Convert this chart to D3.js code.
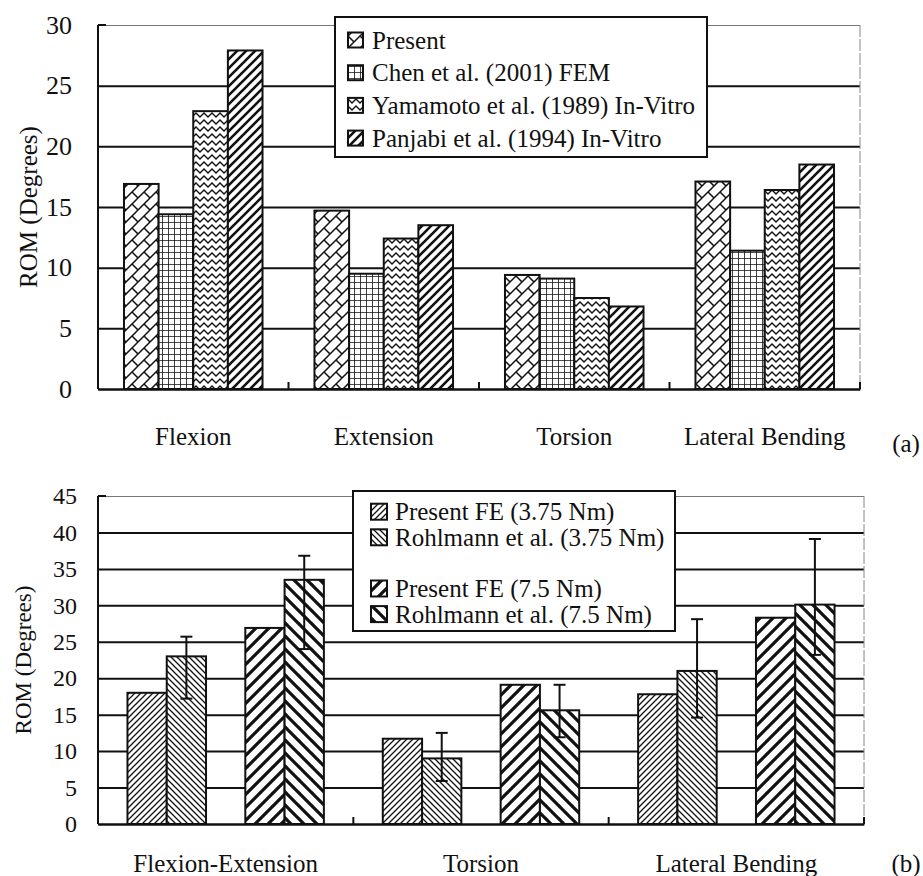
<!DOCTYPE html>
<html><head><meta charset="utf-8">
<script src="https://cdn.jsdelivr.net/npm/d3@7"></script>
<style>
body{margin:0;background:#fff}
text{font-family:"Liberation Serif","Times New Roman",serif;fill:#111}
</style>
</head><body>
<svg id="c" width="923" height="876"></svg>
<script>
// ---------- data ----------
const topCategories = ["Flexion", "Extension", "Torsion", "Lateral Bending"];
const topSeries = ["Present", "Chen et al. (2001) FEM", "Yamamoto et al. (1989) In-Vitro", "Panjabi et al. (1994) In-Vitro"];
const topPresent = [16.9, 14.7, 9.4, 17.1];
const topChen = [14.4, 9.5, 9.1, 11.4];
const topYamamoto = [22.9, 12.4, 7.5, 16.4];
const topPanjabi = [27.9, 13.5, 6.8, 18.5];
const topTicks = [0, 5, 10, 15, 20, 25, 30];

const botCategories = ["Flexion-Extension", "Torsion", "Lateral Bending"];
const botSeries = ["Present FE (3.75 Nm)", "Rohlmann et al. (3.75 Nm)", "", "Present FE (7.5 Nm)", "Rohlmann et al. (7.5 Nm)"];
const botPresent375 = [18.0, 11.7, 17.8];
const botRohlmann375 = [23.0, 9.0, 21.0];
const botPresent75 = [26.9, 19.1, 28.3];
const botRohlmann75 = [33.5, 15.6, 30.1];
const botRohlmann375Low = [17.2, 5.9, 14.6];
const botRohlmann375High = [25.7, 12.5, 28.1];
const botRohlmann75Low = [24.0, 11.9, 23.2];
const botRohlmann75High = [36.8, 19.1, 39.1];
const botTicks = [0, 5, 10, 15, 20, 25, 30, 35, 40, 45];

// ---------- patterns ----------
const svg = d3.select("#c");
const defs = svg.append("defs");
function pat(id, w, h, paths, sw) {
  const p = defs.append("pattern").attr("id", id).attr("patternUnits", "userSpaceOnUse")
    .attr("width", w).attr("height", h);
  p.append("rect").attr("width", w).attr("height", h).attr("fill", "#fff");
  p.append("path").attr("d", paths).attr("stroke", "#111").attr("stroke-width", sw)
    .attr("fill", "none").attr("stroke-linecap", "square");
}
pat("brick", 12, 12, "M0,12L12,0M-1,1L1,-1M11,13L13,11M0,0L6,6", 1.5);
pat("grid", 6, 6, "M0,0L6,0M0,0L0,6", 1.6);
pat("wave", 8, 7, "M0,5L2,3L4,1L6,3L8,5", 1.4);
pat("thickUp", 9, 9, "M0,9L9,0M-1,1L1,-1M8,10L10,8", 2.6);
pat("thinUp", 6, 6, "M0,6L6,0M-1,1L1,-1M5,7L7,5", 1.3);
pat("thinDown", 6, 6, "M0,0L6,6M-1,5L1,7M5,-1L7,1", 1.3);
pat("bigUp", 13, 13, "M0,13L13,0M-1,1L1,-1M12,14L14,12", 3.2);
pat("bigDown", 13, 13, "M0,0L13,13M-1,12L1,14M12,-1L14,1", 3.2);

// ---------- generic chart ----------
function chart(o) {
  const g = svg.append("g");
  const x0 = d3.scaleBand().domain(o.categories).range([o.left, o.right]).padding(0);
  const bw = x0.bandwidth();
  const slot = bw / (o.slots.length + 1.5);
  const x1 = d3.scaleBand().domain(o.slots).range([slot * 0.75, bw - slot * 0.75]).padding(0);
  const y = d3.scaleLinear().domain([0, o.max]).range([o.bottom, o.top]);

  // grid lines + y labels
  const ya = g.append("g").attr("transform", `translate(${o.left},0)`)
    .call(d3.axisLeft(y).tickValues(o.ticks).tickSize(-(o.right - o.left)).tickPadding(o.tickPad));
  ya.select(".domain").remove();
  ya.selectAll(".tick line").attr("stroke", "#111").attr("stroke-width", 2);
  ya.selectAll(".tick").filter(d => d === o.max).select("line").attr("stroke", "#777").attr("stroke-width", 1);
  ya.selectAll(".tick text").attr("font-size", o.tickFont).attr("font-family", "Liberation Serif").attr("fill", "#111");
  // inner tick at top
  g.append("line").attr("x1", o.left).attr("x2", o.left + 8).attr("y1", y(o.max)).attr("y2", y(o.max))
    .attr("stroke", "#111").attr("stroke-width", 2);
  // right border
  g.append("line").attr("x1", o.right).attr("x2", o.right).attr("y1", o.top).attr("y2", o.bottom)
    .attr("stroke", "#888").attr("stroke-width", 1).attr("stroke-dasharray", "12,2");

  // bars
  o.series.forEach((s, si) => {
    g.selectAll(null).data(s.values).enter().append("rect")
      .attr("x", (d, i) => x0(o.categories[i]) + x1(s.key))
      .attr("y", d => y(d))
      .attr("width", x1.bandwidth())
      .attr("height", d => y(0) - y(d))
      .attr("fill", `url(#${s.fill})`)
      .attr("stroke", "#111").attr("stroke-width", 2);
    if (s.low) {
      s.values.forEach((d, i) => {
        const cx = x0(o.categories[i]) + x1(s.key) + x1.bandwidth() / 2;
        const eg = g.append("g").attr("stroke", "#111").attr("stroke-width", 2);
        eg.append("line").attr("x1", cx).attr("x2", cx).attr("y1", y(s.low[i])).attr("y2", y(s.high[i]));
        eg.append("line").attr("x1", cx - 6).attr("x2", cx + 6).attr("y1", y(s.high[i])).attr("y2", y(s.high[i]));
        eg.append("line").attr("x1", cx - 6).attr("x2", cx + 6).attr("y1", y(s.low[i])).attr("y2", y(s.low[i]));
      });
    }
  });

  // axes lines
  g.append("line").attr("x1", o.left).attr("x2", o.left).attr("y1", o.top).attr("y2", o.bottom)
    .attr("stroke", "#111").attr("stroke-width", 2);
  const xa = g.append("g").attr("transform", `translate(0,${o.bottom})`)
    .call(d3.axisBottom(x0).tickSize(0).tickPadding(o.xPad));
  xa.select(".domain").attr("stroke", "#111").attr("stroke-width", 2.2);
  xa.selectAll(".tick text").attr("font-size", 25).attr("font-family", "Liberation Serif").attr("fill", "#111");
  // category boundary ticks (inside)
  g.selectAll(null).data(o.categories.slice(1).concat(["__end"])).enter().append("line")
    .attr("x1", d => d === "__end" ? o.right : x0(d)).attr("x2", d => d === "__end" ? o.right : x0(d))
    .attr("y1", o.bottom).attr("y2", o.bottom - 7)
    .attr("stroke", "#111").attr("stroke-width", 2);

  // y title
  g.append("text").attr("transform", `translate(${o.titleX},${(o.top + o.bottom) / 2}) rotate(-90)`)
    .attr("text-anchor", "middle").attr("dy", "0.35em").attr("font-size", o.titleFont).text("ROM (Degrees)");
  // panel label
  g.append("text").attr("x", 906).attr("y", o.panelY).attr("text-anchor", "middle")
    .attr("font-size", 25).text(o.panel);

  // legend
  const L = o.legend;
  const lg = g.append("g");
  lg.append("rect").attr("x", L.x).attr("y", L.y).attr("width", L.w).attr("height", L.h)
    .attr("fill", "#fff").attr("stroke", "#111").attr("stroke-width", 2);
  o.slots.forEach((k, i) => {
    const s = o.series.find(t => t.key === k);
    if (!s) return;
    const cy = L.row0 + i * L.step;
    lg.append("rect").attr("x", L.sx).attr("y", cy - L.ss / 2).attr("width", L.ss).attr("height", L.ss)
      .attr("fill", `url(#${s.fill})`).attr("stroke", "#111").attr("stroke-width", 2);
    lg.append("text").attr("x", L.tx).attr("y", cy).attr("dy", "0.35em").attr("font-size", 25).text(k);
  });
}

chart({
  categories: topCategories,
  slots: topSeries,
  series: [
    { key: topSeries[0], values: topPresent, fill: "brick" },
    { key: topSeries[1], values: topChen, fill: "grid" },
    { key: topSeries[2], values: topYamamoto, fill: "wave" },
    { key: topSeries[3], values: topPanjabi, fill: "thickUp" }
  ],
  left: 98, right: 860, top: 25, bottom: 389, max: 30, ticks: topTicks,
  tickPad: 26, tickFont: 26, xPad: 38, titleX: 28, titleFont: 25,
  panel: "(a)", panelY: 452,
  legend: { x: 335, y: 17, w: 372, h: 140, row0: 40, step: 32.7, sx: 348, ss: 15, tx: 372 }
});

chart({
  categories: botCategories,
  slots: botSeries,
  series: [
    { key: botSeries[0], values: botPresent375, fill: "thinUp" },
    { key: botSeries[1], values: botRohlmann375, fill: "thinDown", low: botRohlmann375Low, high: botRohlmann375High },
    { key: botSeries[3], values: botPresent75, fill: "bigUp" },
    { key: botSeries[4], values: botRohlmann75, fill: "bigDown", low: botRohlmann75Low, high: botRohlmann75High }
  ],
  left: 98, right: 864, top: 496, bottom: 824, max: 45, ticks: botTicks,
  tickPad: 21, tickFont: 24, xPad: 30, titleX: 23, titleFont: 23,
  panel: "(b)", panelY: 872,
  legend: { x: 353, y: 491, w: 322, h: 140, row0: 511.7, step: 25.6, sx: 371, ss: 16, tx: 395 }
});
</script>
</body></html>
